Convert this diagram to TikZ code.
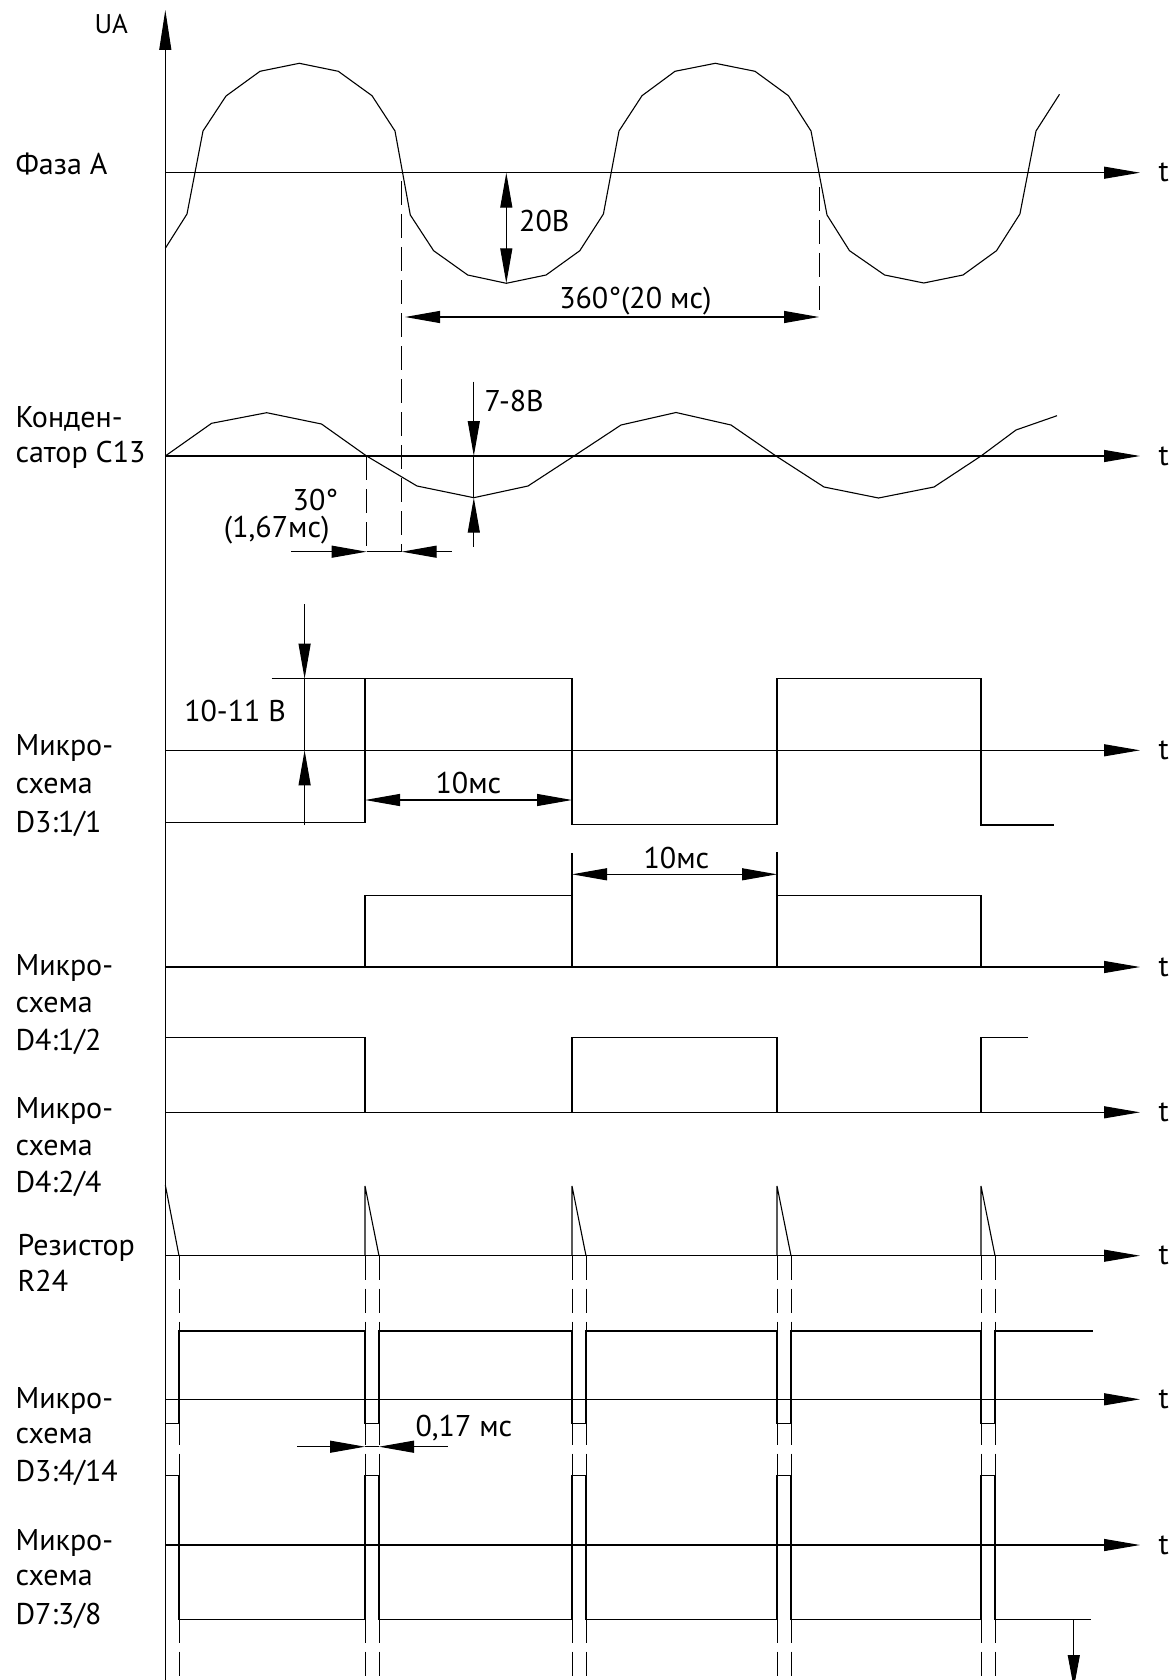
\documentclass[tikz,border=0pt]{standalone}
\usepackage{fontspec}
\setmainfont{PT Sans}
\usetikzlibrary{arrows.meta}
\begin{document}
\begin{tikzpicture}[x=1pt,y=-1pt, line width=1.1pt, line join=miter,
  lbl/.style={anchor=base west, inner sep=0pt, font=\fontsize{30}{36}\selectfont},
  lble/.style={anchor=base east, inner sep=0pt, font=\fontsize{30}{36}\selectfont},
  tlbl/.style={anchor=west, inner sep=0pt, font=\fontsize{30}{36}\selectfont},
  axisln/.style={-{Triangle[length=36pt,width=12pt]}},
  dimarrow/.style={-{Triangle[length=35pt,width=12pt]}},
  dimboth/.style={{Triangle[length=35pt,width=12pt]}-{Triangle[length=35pt,width=12pt]}},
  dashln/.style={dash pattern=on 24pt off 9pt, line width=1pt}]
\useasboundingbox (0,0) rectangle (1171,1680);
\clip (0,0) rectangle (1171,1680);

% main vertical axis
\draw[-{Triangle[length=40pt,width=12pt]}] (165.3,1690) -- (165.3,10);
\node[lbl, font=\fontsize{27}{32}\selectfont] (ua) at (94,34) {UA};

% horizontal time axes
\foreach \yy/\nm in {172.7/a, 456/b, 750.3/c, 967/d, 1112.3/e, 1255.7/f, 1399.3/g, 1545/h} {
  \draw[axisln] (165.3,\yy) -- (1140,\yy);
  \node[tlbl] (t\nm) at (1158,\yy) {t};
}

% ---------------- Phase A ----------------
\node[lbl] (phA) at (15,175) {Фаза А};
\draw (165.3,248.3) -- (187,214) -- (203,131) -- (226,96) -- (260,71.3) -- (299.3,63.3)
  -- (338.3,71.3) -- (372,95.7) -- (395,131) -- (410.3,215) -- (433.6,250.7) -- (467.7,275)
  -- (506.3,283.3) -- (546.1,275) -- (579.8,250.7) -- (603.4,214) -- (619,131) -- (642,95.7)
  -- (675,71.3) -- (715.3,63.3) -- (755,71.3) -- (788.4,95.7) -- (811,131) -- (827,215)
  -- (849.5,250.7) -- (884.6,275) -- (923.8,283) -- (963,275) -- (996.5,250.7) -- (1019.9,214)
  -- (1036,131) -- (1059.5,94.3);
\draw[dimboth] (506.3,172.7) -- (506.3,283.3);
\node[lbl] (v20) at (518.6,231.7) {20В};
\draw[dashln] (401.7,181) -- (401.7,551.7);
\draw[dashln] (819,187) -- (819,317);
\draw[dimboth] (405,317) -- (819,317);
\node[lbl] (p360) at (558.7,308) {360°(20 мс)};

% ---------------- Capacitor C13 ----------------
\node[lbl] (c13a) at (15,427.5) {Конден-};
\node[lbl] (c13b) at (15,462.5) {сатор С13};
\draw (165.3,456) -- (211.6,423.3) -- (266.7,412.7) -- (321.5,424) -- (366.6,456) -- (417,486)
  -- (473.8,497.7) -- (528,486) -- (574,456) -- (621,425) -- (676,412.5) -- (731,425)
  -- (776,456) -- (824,487) -- (878.5,498) -- (934,487) -- (981,456) -- (1016,430) -- (1057,415.7);
\draw[dimarrow] (473.8,381.7) -- (473.8,456);
\draw[dimarrow] (473.8,546.7) -- (473.8,497.7);
\draw (473.8,456) -- (473.8,497.7);
\node[lbl] (v78) at (484,411.7) {7-8В};
\draw[dashln] (366.6,456) -- (366.6,551.7);
\draw[dimarrow] (291,551.7) -- (366.6,551.7);
\draw[dimarrow] (451.6,551.7) -- (401.7,551.7);
\draw (366.6,551.7) -- (401.7,551.7);
\node[lble] (d30) at (338.7,510) {30°};
\node[lble] (d167) at (330,537) {(1,67мс)};

% ---------------- D3:1/1 ----------------
\node[lbl] (m1a) at (15,755) {Микро-};
\node[lbl] (m1b) at (15,793) {схема};
\node[lbl] (m1c) at (15,832) {D3:1/1};
\draw (165.3,822.5) -- (365,822.5) -- (365,678.7) -- (572,678.7) -- (572,824.5) -- (777,824.5)
  -- (777,678.7) -- (981,678.7) -- (981,825) -- (1054,825);
\draw (271.7,678.7) -- (365,678.7);
\draw[dimarrow] (304.6,604) -- (304.6,678.7);
\draw[dimarrow] (304.6,825) -- (304.6,750.3);
\draw (304.6,678.7) -- (304.6,750.3);
\node[lbl] (v1011) at (183.7,721.7) {10-11 В};
\draw[dimboth] (365,800) -- (572,800);
\node[lbl] (ms1) at (435,793.3) {10мс};

% ---------------- D4:1/2 ----------------
\node[lbl] (m2a) at (15,975) {Микро-};
\node[lbl] (m2b) at (15,1012.5) {схема};
\node[lbl] (m2c) at (15,1050) {D4:1/2};
\draw (365,967) -- (365,895.7) -- (572,895.7) -- (572,967);
\draw (777,967) -- (777,895.5) -- (981,895.5) -- (981,967);
\draw (572,853) -- (572,895.7);
\draw (777,852) -- (777,895.5);
\draw[dimboth] (572,874.3) -- (777,874.3);
\node[lbl] (ms2) at (643,868) {10мс};

% ---------------- D4:2/4 ----------------
\node[lbl] (m3a) at (15,1118.3) {Микро-};
\node[lbl] (m3b) at (15,1155) {схема};
\node[lbl] (m3c) at (15,1192) {D4:2/4};
\draw (165.3,1037.3) -- (365,1037.3) -- (365,1112.3);
\draw (572,1112.3) -- (572,1037.3) -- (777,1037.3) -- (777,1112.3);
\draw (981,1112.3) -- (981,1037.3) -- (1028,1037.3);

% ---------------- R24 ----------------
\node[lbl] (r24a) at (17,1255) {Резистор};
\node[lbl] (r24b) at (17,1291.7) {R24};
\foreach \xx in {179,365,379,572,586,777,791,981,995} {
  \draw[dashln] (\xx,1255.7) -- (\xx,1690);
}
\draw (165.3,1185) -- (179,1255.7);
\foreach \xx in {365,572,777,981} {
  \draw (\xx,1255.7) -- (\xx,1186) -- ({\xx+14},1255.7);
}

% ---------------- D3:4/14 ----------------
\node[lbl] (m4a) at (15,1408.3) {Микро-};
\node[lbl] (m4b) at (15,1443) {схема};
\node[lbl] (m4c) at (15,1481.7) {D3:4/14};
\draw (165.3,1423.7) -- (179,1423.7) -- (179,1331) -- (365,1331) -- (365,1423.7) -- (379,1423.7)
  -- (379,1331) -- (572,1331) -- (572,1423.7) -- (586,1423.7) -- (586,1331) -- (777,1331)
  -- (777,1423.7) -- (791,1423.7) -- (791,1331) -- (981,1331) -- (981,1423.7) -- (995,1423.7)
  -- (995,1331) -- (1092.6,1331);
\draw[dimarrow] (297,1446.7) -- (365,1446.7);
\draw[dimarrow] (447.8,1446.7) -- (379,1446.7);
\draw (365,1446.7) -- (379,1446.7);
\node[lbl] (ms017) at (415,1436.7) {0,17 мс};

% ---------------- D7:3/8 ----------------
\node[lbl] (m5a) at (15,1550) {Микро-};
\node[lbl] (m5b) at (15,1585) {схема};
\node[lbl] (m5c) at (15,1624) {D7:3/8};
\draw (165.3,1475.3) -- (179,1475.3) -- (179,1619.3) -- (365,1619.3) -- (365,1475.3) -- (379,1475.3)
  -- (379,1619.3) -- (572,1619.3) -- (572,1475.3) -- (586,1475.3) -- (586,1619.3) -- (777,1619.3)
  -- (777,1475.3) -- (791,1475.3) -- (791,1619.3) -- (981,1619.3) -- (981,1475.3) -- (995,1475.3)
  -- (995,1619.3) -- (1090.8,1619.3);
\coordinate (dnA) at (1073.8,1619.3);
\coordinate (dnB) at (1073.8,1688);
\draw[-{Triangle[length=33pt,width=12pt]}] (dnA) -- (dnB);

\end{tikzpicture}
\end{document}
